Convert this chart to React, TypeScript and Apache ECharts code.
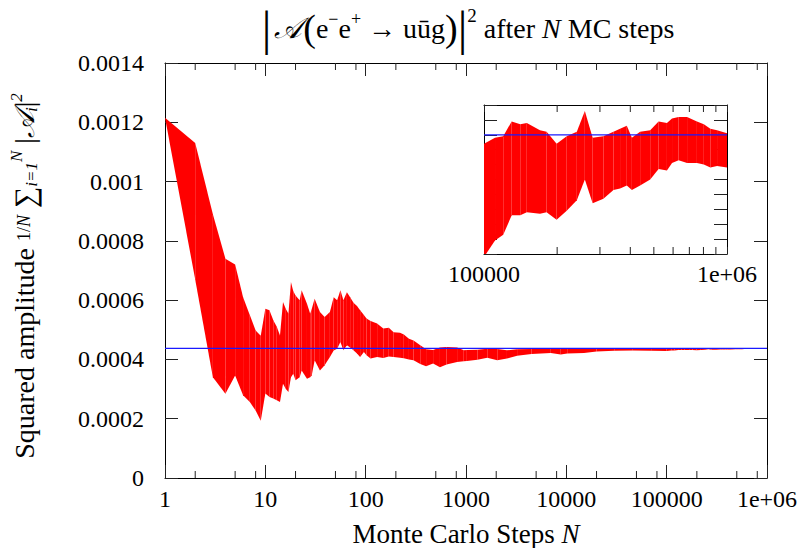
import React, { useEffect, useRef } from 'react';
import * as echarts from 'echarts';

// Monte Carlo steps N (x values)
const steps = [
  1, 2, 3, 4, 5, 6, 7, 8, 9, 10, 11, 12, 13, 14, 15, 16, 17, 18, 19, 20,
  22, 23, 26, 28, 29, 31, 35, 39, 44, 48, 52, 56, 60, 65, 70, 76, 82, 88, 96,
  102, 112, 130, 150, 170, 190, 220, 240, 270, 300, 350, 400, 470, 550, 640,
  815, 950, 1020, 1300, 1630, 2050, 2560, 3230, 4500, 7000, 8800, 10200,
  15000, 20000, 30000, 46000, 70000,
  100000, 111000, 120000, 130000, 141000, 150000, 170000, 181000, 199000,
  219000, 241000, 260000, 280000, 310000, 341000, 363000, 387000, 406000,
  439000, 483000, 523000, 566000, 594000, 632000, 685000, 752000, 803000,
  854000, 910000, 1000000,
];

// upper edge of the band
const upperBound = [
  0.001215, 0.00113, 0.00089, 0.00074, 0.00072, 0.00061, 0.00055, 0.000498, 0.00048, 0.000571,
  0.000566, 0.000532, 0.00051, 0.000481, 0.000594, 0.00057, 0.000554, 0.000661, 0.00063, 0.000616,
  0.0006, 0.000633, 0.000588, 0.000554, 0.00057, 0.000605, 0.00056, 0.000543, 0.00056, 0.00061,
  0.0006, 0.000633, 0.0006, 0.000627, 0.00061, 0.00059, 0.00058, 0.000566, 0.00055,
  0.000538, 0.00053, 0.000521, 0.000504, 0.000507, 0.000492, 0.00049, 0.000484, 0.00047, 0.000464,
  0.000448, 0.000434, 0.000432, 0.00044, 0.000442,
  0.00044, 0.000431, 0.000432, 0.000433, 0.000436, 0.000435, 0.000431, 0.000434, 0.000435,
  0.000436, 0.000436, 0.000436,
  0.000437, 0.000437, 0.000437, 0.000437, 0.000437,
  0.0004364, 0.0004368, 0.0004369, 0.0004379, 0.0004377, 0.0004378, 0.0004373, 0.0004372, 0.0004364,
  0.0004369, 0.0004372, 0.0004386, 0.0004368, 0.0004369, 0.0004372, 0.0004374, 0.0004376, 0.0004368,
  0.0004372, 0.0004373, 0.0004379, 0.0004378, 0.0004381, 0.0004382, 0.0004382, 0.0004379, 0.0004377,
  0.0004374, 0.0004373, 0.0004371,
];

// lower edge of the band
const lowerBound = [
  0.001215, 0.00067, 0.00034, 0.000284, 0.000346, 0.000279, 0.000256, 0.000228, 0.000193, 0.000285,
  0.000273, 0.000268, 0.000262, 0.000256, 0.000318, 0.0003, 0.00029, 0.00034, 0.000352, 0.00033,
  0.00034, 0.000363, 0.000335, 0.00034, 0.000346, 0.000397, 0.000363, 0.00038, 0.000408, 0.00043,
  0.000436, 0.000459, 0.000431, 0.000448, 0.00044, 0.00043, 0.00042, 0.000408, 0.000425,
  0.000414, 0.000403, 0.000408, 0.000405, 0.00041, 0.000408, 0.000406, 0.000404, 0.0004, 0.000397,
  0.000385, 0.000377, 0.000386, 0.000374, 0.000383,
  0.000391, 0.000394, 0.000395, 0.000399, 0.000406, 0.000397, 0.000403, 0.000412, 0.000418,
  0.000422, 0.000417, 0.00042,
  0.000422, 0.000427, 0.000429, 0.00043, 0.000429,
  0.0004288, 0.0004299, 0.0004303, 0.0004316, 0.0004316, 0.0004318, 0.0004317, 0.0004318, 0.0004313,
  0.0004319, 0.0004326, 0.000434, 0.0004324, 0.0004327, 0.0004333, 0.0004334, 0.0004336, 0.0004333,
  0.0004336, 0.000434, 0.0004347, 0.0004346, 0.0004351, 0.0004353, 0.0004351, 0.0004351, 0.000435,
  0.0004348, 0.0004349, 0.0004348,
];

const referenceValue = 0.000437;

const xTickLabels = ['1', '10', '100', '1000', '10000', '100000', '1e+06'];
const yTickLabels = ['0', '0.0002', '0.0004', '0.0006', '0.0008', '0.001', '0.0012', '0.0014'];
const mainMinorTicks = [2, 5, 8, 20, 50, 80, 200, 500, 800, 2000, 5000, 8000, 20000, 50000, 80000, 200000, 500000, 800000];
const insetMinorTicks = [200000, 300000, 400000, 500000, 600000, 700000, 800000, 900000];

const MAIN_X = [1, 1000000];
const MAIN_Y = [0, 0.0014];
const MAIN_Y_STEP = 0.0002;
const INSET_X = [100000, 1000000];
const INSET_Y = [0.000429, 0.000439];
const INSET_Y_STEP = 0.000001;

const FONT = '"Liberation Serif", "Times New Roman", serif';
const RED = '#ff0000';
const BLUE = '#1a1aff';

function bandData(minX: number) {
  const out: number[][] = [];
  for (let i = 0; i < steps.length - 1; i++) {
    if (steps[i + 1] <= minX) continue;
    out.push([steps[i], lowerBound[i], upperBound[i], steps[i + 1], lowerBound[i + 1], upperBound[i + 1]]);
  }
  return out;
}

const bandRender = (params: any, api: any) => {
  const a = api.coord([api.value(0), api.value(1)]);
  const b = api.coord([api.value(3), api.value(4)]);
  const c = api.coord([api.value(3), api.value(5)]);
  const d = api.coord([api.value(0), api.value(2)]);
  return { type: 'polygon', shape: { points: [a, b, c, d] }, style: { fill: RED } };
};

const minorTickRender = (yLo: number, yHi: number, len: number) => (params: any, api: any) => {
  const v = api.value(0);
  const b = api.coord([v, yLo]);
  const t = api.coord([v, yHi]);
  return {
    type: 'group',
    children: [
      { type: 'line', shape: { x1: b[0], y1: b[1], x2: b[0], y2: b[1] - len }, style: { stroke: '#222', lineWidth: 1 } },
      { type: 'line', shape: { x1: t[0], y1: t[1], x2: t[0], y2: t[1] + len }, style: { stroke: '#222', lineWidth: 1 } },
    ],
  };
};

const logLabel = (v: number) => xTickLabels[Math.round(Math.log10(v))] ?? '';

const axisLine = { show: true, onZero: false, lineStyle: { color: '#000', width: 1 } };
const labelStyle = { fontFamily: FONT, fontSize: 24, color: '#000' };

export default function App() {
  const ref = useRef<HTMLDivElement>(null);
  useEffect(() => {
    if (!ref.current) return;
    const chart = echarts.init(ref.current, undefined, { renderer: 'svg' });
    const option: any = {
      animation: false,
      backgroundColor: '#fff',
      grid: [
        { left: 165, top: 63, width: 602, height: 415, containLabel: false, outerBoundsMode: 'none' },
        { left: 484, top: 105, width: 243, height: 149, containLabel: false, outerBoundsMode: 'none' },
      ],
      xAxis: [
        {
          type: 'log', gridIndex: 0, min: MAIN_X[0], max: MAIN_X[1], logBase: 10, position: 'bottom',
          axisLine, axisTick: { show: true, inside: true, length: 13, lineStyle: { color: '#222' } },
          axisLabel: { ...labelStyle, margin: 9, formatter: logLabel },
          splitLine: { show: false },
          name: 'Monte Carlo Steps {it|N}', nameLocation: 'middle', nameGap: 42,
          nameTextStyle: {
            fontFamily: FONT, fontSize: 27, color: '#000',
            rich: { it: { fontFamily: FONT, fontSize: 27, fontStyle: 'italic', color: '#000' } },
          },
        },
        {
          type: 'log', gridIndex: 0, min: MAIN_X[0], max: MAIN_X[1], logBase: 10, position: 'top',
          axisLine, axisTick: { show: true, inside: true, length: 13, lineStyle: { color: '#222' } },
          axisLabel: { show: false }, splitLine: { show: false },
        },
        {
          type: 'log', gridIndex: 1, min: INSET_X[0], max: INSET_X[1], logBase: 10, position: 'bottom',
          axisLine, axisTick: { show: true, inside: true, length: 7, lineStyle: { color: '#222' } },
          axisLabel: { ...labelStyle, margin: 8, formatter: logLabel },
          splitLine: { show: false },
        },
        {
          type: 'log', gridIndex: 1, min: INSET_X[0], max: INSET_X[1], logBase: 10, position: 'top',
          axisLine, axisTick: { show: true, inside: true, length: 7, lineStyle: { color: '#222' } },
          axisLabel: { show: false }, splitLine: { show: false },
        },
      ],
      yAxis: [
        {
          type: 'value', gridIndex: 0, min: MAIN_Y[0], max: MAIN_Y[1], interval: MAIN_Y_STEP, position: 'left',
          axisLine, axisTick: { show: true, inside: true, length: 13, lineStyle: { color: '#222' } },
          axisLabel: { ...labelStyle, margin: 21, formatter: (v: number) => yTickLabels[Math.round(v / MAIN_Y_STEP)] ?? '' },
          splitLine: { show: false },
        },
        {
          type: 'value', gridIndex: 0, min: MAIN_Y[0], max: MAIN_Y[1], interval: MAIN_Y_STEP, position: 'right',
          axisLine, axisTick: { show: true, inside: true, length: 13, lineStyle: { color: '#222' } },
          axisLabel: { show: false }, splitLine: { show: false },
        },
        {
          type: 'value', gridIndex: 1, min: INSET_Y[0], max: INSET_Y[1], interval: INSET_Y_STEP, position: 'left',
          axisLine, axisTick: { show: true, inside: true, length: 13, lineStyle: { color: '#222' } },
          axisLabel: { show: false }, splitLine: { show: false },
        },
        {
          type: 'value', gridIndex: 1, min: INSET_Y[0], max: INSET_Y[1], interval: INSET_Y_STEP, position: 'right',
          axisLine, axisTick: { show: true, inside: true, length: 13, lineStyle: { color: '#222' } },
          axisLabel: { show: false }, splitLine: { show: false },
        },
      ],
      series: [
        {
          type: 'custom', xAxisIndex: 0, yAxisIndex: 0, clip: true, silent: true,
          encode: { x: [0, 3], y: [1, 2, 4, 5] },
          data: bandData(MAIN_X[0]), renderItem: bandRender, z: 2,
        },
        {
          type: 'line', xAxisIndex: 0, yAxisIndex: 0, symbol: 'none', silent: true,
          data: [[steps[0], referenceValue], [steps[steps.length - 1], referenceValue]],
          lineStyle: { color: BLUE, width: 1.3 }, z: 5,
        },
        {
          type: 'custom', xAxisIndex: 0, yAxisIndex: 0, clip: false, silent: true,
          data: mainMinorTicks.map((v) => [v, MAIN_Y[0]]),
          renderItem: minorTickRender(MAIN_Y[0], MAIN_Y[1], 7), z: 6,
        },
        {
          type: 'custom', xAxisIndex: 2, yAxisIndex: 2, clip: true, silent: true,
          encode: { x: [0, 3], y: [1, 2, 4, 5] },
          data: bandData(INSET_X[0]), renderItem: bandRender, z: 2,
        },
        {
          type: 'line', xAxisIndex: 2, yAxisIndex: 2, symbol: 'none', silent: true,
          data: [[INSET_X[0], referenceValue], [INSET_X[1], referenceValue]],
          lineStyle: { color: BLUE, width: 1.3 }, z: 5,
        },
        {
          type: 'custom', xAxisIndex: 2, yAxisIndex: 2, clip: false, silent: true,
          data: insetMinorTicks.map((v) => [v, INSET_Y[0]]),
          renderItem: minorTickRender(INSET_Y[0], INSET_Y[1], 7), z: 6,
        },
      ],
      graphic: [
        {
          type: 'text', x: 468, y: 28, z: 10,
          style: {
            text: '{bar||}{sp| }{scr|𝒜}{sp| }{par|(}{t|e}{sup|−}{t|e}{sup|+}{t| → uūg}{par|)}{bar||}{sup2|2}{t| after }{it|N}{t| MC steps}',
            align: 'center', verticalAlign: 'middle', fill: '#000',
            fontFamily: FONT, fontSize: 28,
            rich: {
              bar: { fontFamily: FONT, fontSize: 48 },
              sp: { fontFamily: FONT, fontSize: 10 },
              scr: { fontFamily: FONT, fontSize: 29, fontStyle: 'italic' },
              par: { fontFamily: FONT, fontSize: 38 },
              t: { fontFamily: FONT, fontSize: 28 },
              it: { fontFamily: FONT, fontSize: 28, fontStyle: 'italic' },
              sup: { fontFamily: FONT, fontSize: 18, padding: [0, 0, 18, 0] },
              sup2: { fontFamily: FONT, fontSize: 19, padding: [0, 0, 25, 0] },
            },
          },
        },
        {
          type: 'text', x: 24, y: 276, rotation: Math.PI / 2, z: 10,
          style: {
            text: '{t|Squared amplitude }{f|1/}{fi|N}{t| }{sum|∑}{sub|i=1}{sup|N}{t| |}{scr|𝒜}{sub|i}{t||}{sup|2}',
            align: 'center', verticalAlign: 'middle', fill: '#000',
            fontFamily: FONT, fontSize: 28,
            rich: {
              t: { fontFamily: FONT, fontSize: 28 },
              f: { fontFamily: FONT, fontSize: 18 },
              fi: { fontFamily: FONT, fontSize: 18, fontStyle: 'italic' },
              sum: { fontFamily: FONT, fontSize: 30 },
              scr: { fontFamily: FONT, fontSize: 28, fontStyle: 'italic' },
              sub: { fontFamily: FONT, fontSize: 17, fontStyle: 'italic', padding: [14, 0, 0, 0] },
              sup: { fontFamily: FONT, fontSize: 17, fontStyle: 'italic', padding: [0, 0, 16, 0] },
            },
          },
        },
      ],
    };
    chart.setOption(option);
    return () => chart.dispose();
  }, []);
  return <div ref={ref} style={{ position: 'fixed', left: 0, top: 0, width: 802, height: 548 }} />;
}
